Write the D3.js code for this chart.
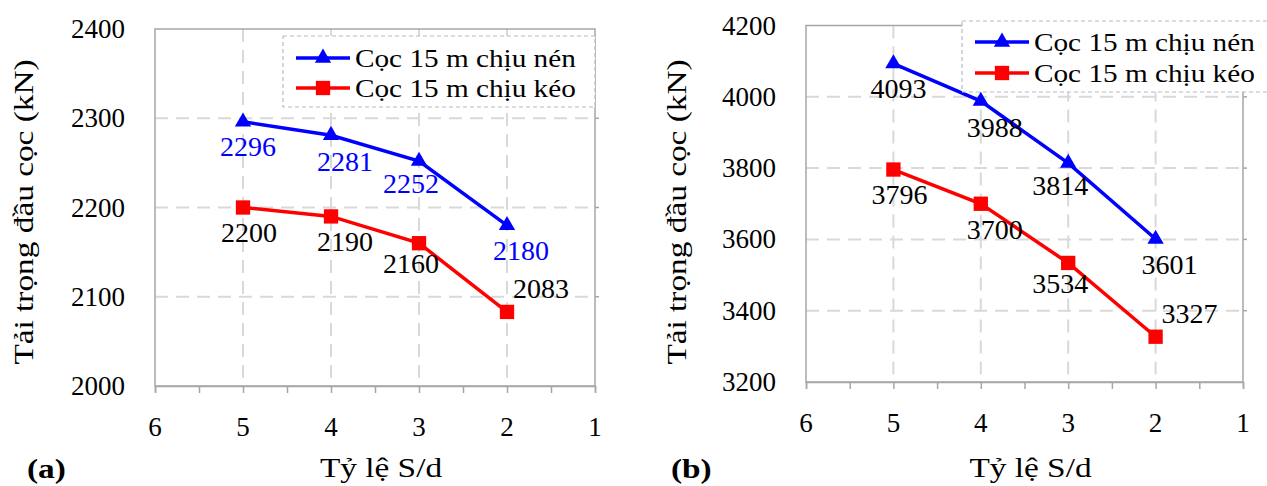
<!DOCTYPE html>
<html>
<head>
<meta charset="utf-8">
<script src="https://cdn.jsdelivr.net/npm/d3@7"></script>
<style>
  html, body { margin: 0; padding: 0; background: #fff; }
</style>
</head>
<body>
<svg id="chart" width="1267" height="486" font-family="'Liberation Serif', Tinos, 'Times New Roman', serif"></svg>
<script>
// ---- data ----
const sdRatio = [5, 4, 3, 2];
const xTicks = [6, 5, 4, 3, 2, 1];
const seriesNames = ["Cọc 15 m chịu nén", "Cọc 15 m chịu kéo"];
const compressionA = [2296, 2281, 2252, 2180];
const tensionA = [2200, 2190, 2160, 2083];
const compressionB = [4093, 3988, 3814, 3601];
const tensionB = [3796, 3700, 3534, 3327];
const yTicksA = [2000, 2100, 2200, 2300, 2400];
const yTicksB = [3200, 3400, 3600, 3800, 4000, 4200];
const yTitle = "Tải trọng đầu cọc (kN)";
const xTitle = "Tỷ lệ S/d";
const panelLabels = ["(a)", "(b)"];

const svg = d3.select("#chart");
const STRETCH = 1.19;

function drawPanel(cfg) {
  const x = d3.scaleLinear().domain([6, 1]).range([cfg.x0, cfg.x1]);
  const y = d3.scaleLinear().domain(cfg.yDomain).range([cfg.y1, cfg.y0]);
  const g = svg.append("g");

  // gridlines
  g.selectAll(".hgrid").data(cfg.yTicks.slice(1, -1)).join("line")
    .attr("x1", cfg.x0).attr("x2", cfg.x1)
    .attr("y1", d => y(d)).attr("y2", d => y(d))
    .attr("stroke", "#d9d9d9").attr("stroke-width", 2).attr("stroke-dasharray", "13,8");
  g.selectAll(".vgrid").data(xTicks.slice(1, -1)).join("line")
    .attr("x1", d => x(d)).attr("x2", d => x(d))
    .attr("y1", cfg.y0).attr("y2", cfg.y1)
    .attr("stroke", "#d9d9d9").attr("stroke-width", 2).attr("stroke-dasharray", "13,8");

  // frame
  g.append("rect").attr("x", cfg.x0).attr("y", cfg.y0)
    .attr("width", cfg.x1 - cfg.x0).attr("height", cfg.y1 - cfg.y0)
    .attr("fill", "none").attr("stroke", "#a6a6a6").attr("stroke-width", 1.5);

  // small ticks on the right edge
  g.selectAll(".rtick").data(cfg.yTicks.slice(1, -1)).join("line")
    .attr("x1", cfg.x1).attr("x2", cfg.x1 + 4)
    .attr("y1", d => y(d)).attr("y2", d => y(d))
    .attr("stroke", "#a6a6a6").attr("stroke-width", 1.5);

  // x axis minor ticks (every 0.5)
  const xAxis = d3.axisBottom(x).tickValues(d3.range(1, 6.01, 0.5)).tickSize(7).tickFormat("");
  const xa = g.append("g").attr("transform", `translate(0,${cfg.y1})`).call(xAxis);
  xa.select(".domain").attr("stroke", "#a6a6a6").attr("stroke-width", 1.5);
  xa.selectAll(".tick line").attr("stroke", "#a6a6a6").attr("stroke-width", 1.5);

  // y tick labels
  g.selectAll(".ylab").data(cfg.yTicks).join("text")
    .attr("x", cfg.x0 - 30).attr("y", d => y(d) + 9)
    .attr("text-anchor", "end").attr("font-size", 27).attr("fill", "#000")
    .text(d => d);

  // x tick labels
  g.selectAll(".xlab").data(xTicks).join("text")
    .attr("x", d => x(d)).attr("y", cfg.y1 + 50)
    .attr("text-anchor", "middle").attr("font-size", 27).attr("fill", "#000")
    .text(d => d);

  // axis titles (horizontally widened glyphs as in the reference)
  g.append("text")
    .attr("transform", `translate(${(cfg.x0 + cfg.x1) / 2 + 6},477) scale(${STRETCH},1)`)
    .attr("text-anchor", "middle").attr("font-size", 28).text(xTitle);
  g.append("text")
    .attr("transform", `translate(${cfg.yTitleX},212) rotate(-90) scale(${STRETCH},1)`)
    .attr("text-anchor", "middle").attr("font-size", 28).text(yTitle);

  // panel label
  g.append("text")
    .attr("transform", `translate(${cfg.panelX},478) scale(${STRETCH},1)`)
    .attr("font-size", 28).attr("font-weight", "bold").text(cfg.panel);

  const line = d3.line().x((d, i) => x(sdRatio[i])).y(d => y(d));

  const series = [
    { vals: cfg.comp, color: "#0000ff", marker: "tri", labelColor: cfg.compLabelColor,
      dx: [5, 14, -8, 14], dy: [34, 36, 32, 35] },
    { vals: cfg.tens, color: "#ff0000", marker: "sq", labelColor: "#000",
      dx: [6, 14, -8, 34], dy: [34, 35, 30, -14] }
  ];
  const symOf = s => d3.symbol().type(s.marker === "tri" ? d3.symbolTriangle : d3.symbolSquare)
    .size(s.marker === "tri" ? 115 : 205);

  series.forEach(s => {
    g.append("path").datum(s.vals).attr("d", line)
      .attr("fill", "none").attr("stroke", s.color).attr("stroke-width", 3.5);
    g.selectAll(null).data(s.vals).join("path")
      .attr("d", symOf(s))
      .attr("transform", (d, i) => `translate(${x(sdRatio[i])},${y(d)})`)
      .attr("fill", s.color);
    g.selectAll(null).data(s.vals).join("text")
      .attr("x", (d, i) => x(sdRatio[i]) + s.dx[i])
      .attr("y", (d, i) => y(d) + s.dy[i])
      .attr("text-anchor", "middle").attr("font-size", 28)
      .attr("fill", s.labelColor).text(d => d);
  });

  // legend
  const L = cfg.legend;
  g.append("rect").attr("x", L.x).attr("y", L.y).attr("width", L.w).attr("height", L.h)
    .attr("fill", "#fff").attr("stroke", "#b4bcc8").attr("stroke-width", 1.2)
    .attr("stroke-dasharray", "4,3");
  series.forEach((s, i) => {
    const ly = L.y + L.rowY[i];
    g.append("line").attr("x1", L.x + 13).attr("x2", L.x + 67)
      .attr("y1", ly).attr("y2", ly).attr("stroke", s.color).attr("stroke-width", 3.5);
    g.append("path").attr("d", symOf(s))
      .attr("transform", `translate(${L.x + 40},${ly})`).attr("fill", s.color);
    g.append("text")
      .attr("transform", `translate(${L.x + 72},${ly + 9}) scale(1.17,1)`)
      .attr("font-size", 25).attr("fill", "#000").text(seriesNames[i]);
  });
}

drawPanel({
  x0: 155, x1: 595, y0: 29, y1: 386, yDomain: [2000, 2400], yTicks: yTicksA,
  comp: compressionA, tens: tensionA, compLabelColor: "#0000ff",
  yTitleX: 33, panelX: 27, panel: panelLabels[0],
  legend: { x: 283, y: 36, w: 312, h: 71, rowY: [22, 52] }
});
drawPanel({
  x0: 806, x1: 1243, y0: 25.5, y1: 382, yDomain: [3200, 4200], yTicks: yTicksB,
  comp: compressionB, tens: tensionB, compLabelColor: "#000",
  yTitleX: 686, panelX: 671, panel: panelLabels[1],
  legend: { x: 962, y: 21, w: 320, h: 71, rowY: [21, 52] }
});
</script>
</body>
</html>
